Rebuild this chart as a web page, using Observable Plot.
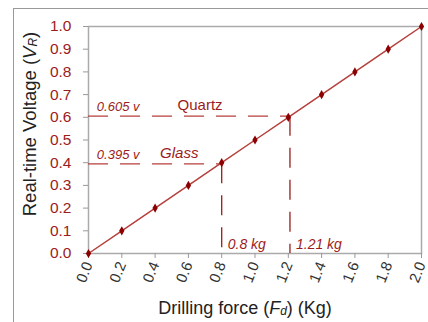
<!DOCTYPE html>
<html><head><meta charset="utf-8">
<script src="https://cdn.jsdelivr.net/npm/d3@7"></script>
<script src="https://cdn.jsdelivr.net/npm/@observablehq/plot@0.6"></script>
<style>
body{margin:0;background:#fff;font-family:"Liberation Sans",Arial,sans-serif;}
#wrap{position:relative;width:428px;height:322px;overflow:hidden;}
#border{position:absolute;left:13px;top:8px;width:430px;height:330px;border-top:1px solid #999;border-left:1px solid #999;pointer-events:none;}
</style></head><body>
<div id="wrap"><div id="chart"></div><div id="border"></div></div>
<script>
const forceKg = [0.0,0.2,0.4,0.6,0.8,1.0,1.2,1.4,1.6,1.8,2.0];
const voltage = [0.0,0.1,0.2,0.3,0.4,0.5,0.6,0.7,0.8,0.9,1.0];
const materials = ["Quartz","Glass"];
const matVoltage = [0.605,0.395];
const matForce = [1.21,0.8];
const voltLabels = ["0.605 v","0.395 v"];
const forceLabels = ["1.21 kg","0.8 kg"];
const xTicks = [0,0.2,0.4,0.6,0.8,1.0,1.2,1.4,1.6,1.8,2.0];
const yTicks = [0,0.1,0.2,0.3,0.4,0.5,0.6,0.7,0.8,0.9,1.0];

const red = "#9b1c1c";
const lineRed = "#b5403c";
const pts = forceKg.map((f,i)=>({f, v: voltage[i]}));
const mats = materials.map((m,i)=>({m, v: matVoltage[i], f: matForce[i], vl: voltLabels[i], fl: forceLabels[i]}));

const dash = "20,12";
const chart = Plot.plot({
  width: 428, height: 322,
  marginLeft: 88, marginRight: 7, marginTop: 26, marginBottom: 69,
  style: {fontFamily: "Liberation Sans, Arial, sans-serif", fontSize: "15px", background: "transparent"},
  x: {domain: [0,2], ticks: xTicks},
  y: {domain: [0,1], ticks: yTicks},
  marks: [
    Plot.frame({stroke: "#aaa", strokeWidth: 1.5}),
    Plot.axisY(yTicks, {tickSize: 5, stroke: "#999", tickFormat: d3.format(".1f"), fill: red, tickPadding: 12, label: null, fontSize: 15.5}),
    Plot.axisX(xTicks, {tickSize: 5, stroke: "#999", tickFormat: d3.format(".1f"), fill: "#333", tickRotate: -68, tickPadding: 4, label: null, fontSize: 15}),
    // dashed guide lines
    Plot.ruleY(mats, {y: "v", x1: 0, x2: "f", stroke: lineRed, strokeWidth: 1.3, strokeDasharray: dash}),
    Plot.ruleX(mats, {x: "f", y1: "v", y2: 0, stroke: red, strokeWidth: 1.3, strokeDasharray: dash}),
    Plot.line(pts, {x: "f", y: "v", stroke: lineRed, strokeWidth: 1.5}),
    Plot.dot(pts, {x: "f", y: "v", r: 2.8, fill: "#8b0000", stroke: "none", symbol: "diamond"}),
    // annotations
    Plot.text(mats, {x: 0.05, y: "v", text: "vl", textAnchor: "start", lineAnchor: "bottom", dy: -5, fill: red, fontStyle: "italic", fontSize: 13}),
    Plot.text(mats.filter(d=>d.m==="Quartz"), {x: 0.535, y: "v", text: "m", textAnchor: "start", lineAnchor: "bottom", dy: -6, fill: red, fontSize: 15}),
    Plot.text(mats.filter(d=>d.m==="Glass"), {x: 0.43, y: "v", text: "m", textAnchor: "start", lineAnchor: "bottom", dy: -6, fill: red, fontSize: 15, fontStyle: "italic"}),
    Plot.text(mats, {x: "f", y: 0, text: "fl", textAnchor: "start", lineAnchor: "bottom", dx: 6, dy: -5, fill: red, fontStyle: "italic", fontSize: 14}),
    // axis titles
    Plot.text(["Drilling force (Fd)(Kg)"], {frameAnchor: "bottom", dx: -10, dy: 60, text: d=>d, fontSize: 18, fill: "#222", lineAnchor: "bottom", textAnchor: "middle"}),
    Plot.text(["Real-time Voltage (VR)"], {frameAnchor: "left", dx: -58, dy: -16, rotate: -90, text: d=>d, fontSize: 18.5, fill: "#222", textAnchor: "middle"})
  ]
});
document.getElementById("chart").appendChild(chart);
// subscripts in axis titles
d3.select(chart).selectAll("text").each(function(){
  const t = this.textContent;
  if (t === "Drilling force (Fd)(Kg)") {
    const s = d3.select(this); s.text(null);
    s.append("tspan").text("Drilling force (");
    s.append("tspan").attr("font-style","italic").text("F");
    s.append("tspan").attr("font-style","italic").attr("font-size","12").attr("dy","1").text("d");
    s.append("tspan").attr("dy","-1").text(") (Kg)");
  } else if (t === "Real-time Voltage (VR)") {
    const s = d3.select(this); s.text(null);
    s.append("tspan").text("Real-time Voltage (");
    s.append("tspan").attr("font-style","italic").text("V");
    s.append("tspan").attr("font-style","italic").attr("font-size","12").attr("dy","1").text("R");
    s.append("tspan").attr("dy","-1").text(")");
  }
});
</script></body></html>
